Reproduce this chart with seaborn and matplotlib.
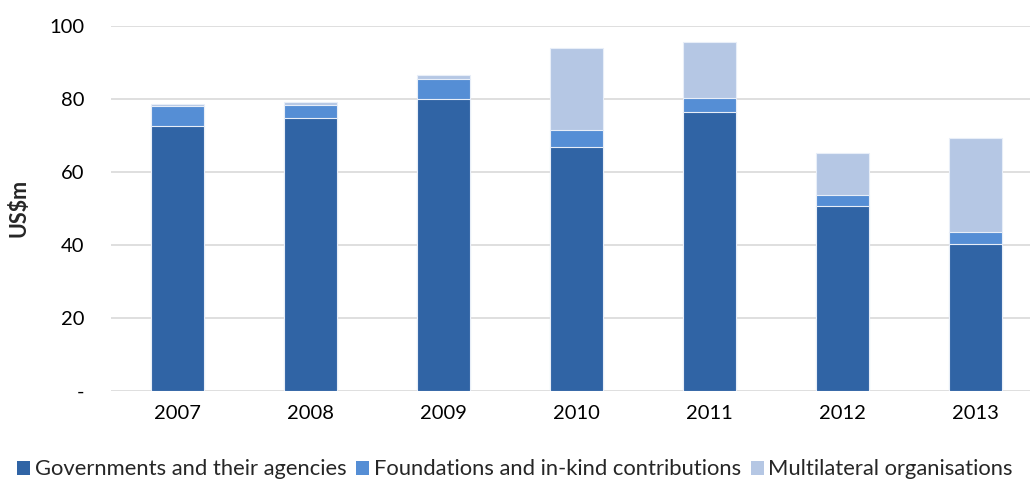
import matplotlib
matplotlib.use("Agg")
import matplotlib.pyplot as plt
import seaborn as sns
import pandas as pd
from matplotlib.patches import Patch

years = ["2007", "2008", "2009", "2010", "2011", "2012", "2013"]
governments = [72.5, 74.8, 80.0, 66.7, 76.4, 50.7, 40.3]
foundations = [5.4, 3.6, 5.5, 4.8, 3.8, 2.8, 3.2]
multilateral = [0.6, 0.8, 0.9, 22.3, 15.2, 11.5, 25.7]

series_names = ["Governments and their agencies",
                "Foundations and in-kind contributions",
                "Multilateral organisations"]
colors = ["#3064A5", "#558ED5", "#B5C7E4"]
y_ticks = [0, 20, 40, 60, 80, 100]
y_tick_labels = ["-", "20", "40", "60", "80", "100"]

sns.set_theme(style="white")
plt.rcParams["font.family"] = ["Lato", "DejaVu Sans"]

df = pd.DataFrame({"year": years, "gov": governments,
                   "found": foundations, "multi": multilateral})
df["lvl1"] = df["gov"]
df["lvl2"] = df["gov"] + df["found"]
df["lvl3"] = df["lvl2"] + df["multi"]

fig = plt.figure(figsize=(10.30, 4.83), dpi=100)
ax = fig.add_axes([111 / 1030, 92.3 / 483, 919 / 1030, 365 / 483])

# Stacked bars drawn as cumulative totals, tallest first
for col, color in zip(["lvl3", "lvl2", "lvl1"], colors[::-1]):
    sns.barplot(data=df, x="year", y=col, color=color, width=0.4,
                saturation=1, edgecolor="#E8EEF8", linewidth=0.8, ax=ax, zorder=3)

ax.set_xlim(-0.5, 6.41)
ax.set_ylim(0, 100)
ax.set_yticks(y_ticks)
ax.set_yticklabels(y_tick_labels)
ax.yaxis.grid(True, color="#D9D9D9", linewidth=1.2, zorder=0)
ax.set_axisbelow(True)
for s in ax.spines.values():
    s.set_visible(False)
ax.tick_params(axis="both", length=0, labelsize=14.5, colors="#000000")
ax.tick_params(axis="y", pad=19)
ax.tick_params(axis="x", pad=10)
ax.set_xlabel("")
ax.set_ylabel("US\\$m", fontsize=15.5, fontweight="bold")
ax.yaxis.set_label_coords(-0.089, 0.5)

handles = [Patch(facecolor=c, edgecolor="none") for c in colors]
fig.legend(handles, series_names, loc="center", bbox_to_anchor=(0.5, 0.028),
           ncol=3, frameon=False, fontsize=15.8, handlelength=0.6,
           handleheight=0.6, handletextpad=0.2, columnspacing=0.45,
           borderpad=0.1)

fig.savefig("out.png", dpi=100)
